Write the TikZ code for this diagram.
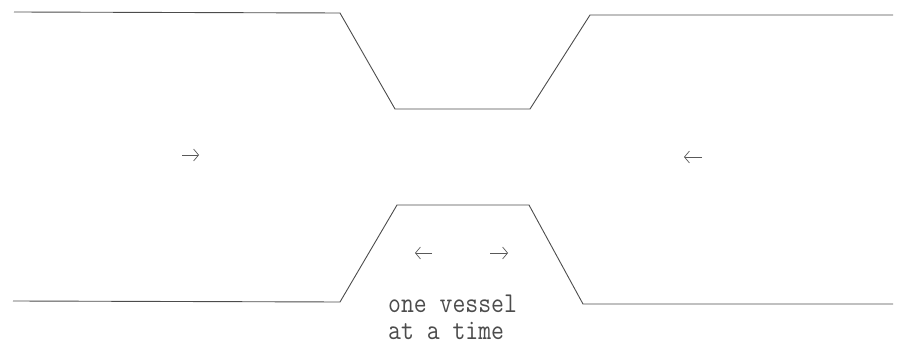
\documentclass[tikz,border=0pt]{standalone}
\usetikzlibrary{arrows.meta}
\begin{document}
\begin{tikzpicture}[x=1pt,y=-1pt,
  bank/.style={draw=black!70,line width=0.9pt,line join=round},
  flow/.style={draw=black!65,line width=0.7pt,-{Straight Barb[length=5pt,width=12pt]}},
  lbl/.style={font=\ttfamily\fontsize{25}{27}\selectfont,text=black!70,inner sep=0pt,anchor=base west}]
\useasboundingbox (0,0) rectangle (905,347);
% upper bank
\coordinate (u1) at (14,12);
\coordinate (u2) at (340,13);
\coordinate (u3) at (395,109);
\coordinate (u4) at (530,109);
\coordinate (u5) at (590,15);
\coordinate (u6) at (893,15);
\draw[bank] (u1) -- (u2) -- (u3) -- (u4) -- (u5) -- (u6);
% lower bank
\coordinate (l1) at (13,301);
\coordinate (l2) at (340,302);
\coordinate (l3) at (397,205);
\coordinate (l4) at (529,205);
\coordinate (l5) at (583,304);
\coordinate (l6) at (893,304);
\draw[bank] (l1) -- (l2) -- (l3) -- (l4) -- (l5) -- (l6);
% flow arrows
\coordinate (a1s) at (182,155); \coordinate (a1e) at (199,155);
\coordinate (a2s) at (702,157); \coordinate (a2e) at (684,157);
\coordinate (a3s) at (432,253); \coordinate (a3e) at (415,253);
\coordinate (a4s) at (490,253); \coordinate (a4e) at (508,253);
\draw[flow] (a1s) -- (a1e);
\draw[flow] (a2s) -- (a2e);
\draw[flow] (a3s) -- (a3e);
\draw[flow] (a4s) -- (a4e);
% label
\node[lbl] (t1) at (388,313) {\scalebox{1}[1.15]{one vessel}};
\node[lbl] (t2) at (388,340) {\scalebox{1}[1.15]{at a time}};
\end{tikzpicture}
\end{document}
